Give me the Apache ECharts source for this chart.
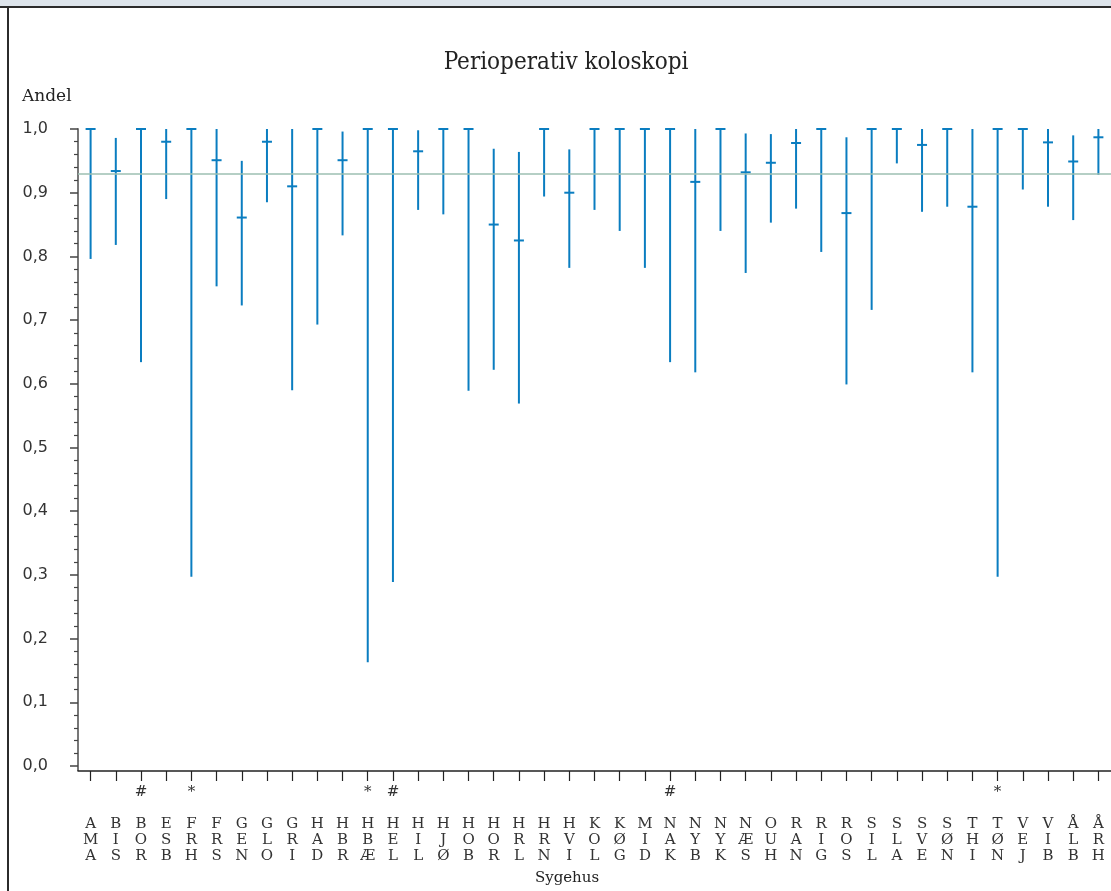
<!DOCTYPE html>
<html>
<head>
<meta charset="utf-8">
<script src="https://cdn.jsdelivr.net/npm/echarts@6/dist/echarts.min.js"></script>
<style>
html,body{margin:0;padding:0;background:#fff;}
#frame{position:absolute;left:0;top:0;width:1111px;height:891px;overflow:hidden;}
#band{position:absolute;left:0;top:0;width:1111px;height:6px;background:#dde4eb;border-bottom:2px solid #2b2b2b;}
#lb{position:absolute;left:7px;top:6px;width:2px;height:885px;background:#2b2b2b;}
#chart{position:absolute;left:0;top:0;width:1111px;height:891px;}
</style>
</head>
<body>
<div id="frame">
<div id="chart"></div>
<div id="band"></div>
<div id="lb"></div>
</div>
<script>
// ---- data ----
const categories = ['AMA','BIS','BOR','ESB','FRH','FRS','GEN','GLO','GRI','HAD','HBR','HBÆ','HEL','HIL','HJØ','HOB','HOR','HRL','HRN','HVI','KOL','KØG','MID','NAK','NYB','NYK','NÆS','OUH','RAN','RIG','ROS','SIL','SLA','SVE','SØN','THI','TØN','VEJ','VIB','ÅLB','ÅRH'];
const marks = ['','','#','','*','','','','','','','*','#','','','','','','','','','','','#','','','','','','','','','','','','','*','','','',''];
const estimate = [1.0,0.934,1.0,0.980,1.0,0.951,0.861,0.980,0.910,1.0,0.951,1.0,1.0,0.965,1.0,1.0,0.850,0.825,1.0,0.900,1.0,1.0,1.0,1.0,0.917,1.0,0.932,0.947,0.978,1.0,0.868,1.0,1.0,0.975,1.0,0.878,1.0,1.0,0.979,0.949,0.987];
const lower = [0.796,0.818,0.634,0.890,0.297,0.753,0.723,0.885,0.590,0.693,0.833,0.163,0.289,0.873,0.866,0.589,0.622,0.569,0.894,0.782,0.873,0.840,0.782,0.634,0.618,0.840,0.774,0.853,0.875,0.807,0.599,0.716,0.946,0.870,0.878,0.618,0.297,0.905,0.878,0.857,0.928];
const upper = [1.0,0.986,1.0,1.0,1.0,1.0,0.950,1.0,1.0,1.0,0.996,1.0,1.0,0.998,1.0,1.0,0.969,0.964,1.0,0.968,1.0,1.0,1.0,1.0,1.0,1.0,0.993,0.992,1.0,1.0,0.987,1.0,1.0,1.0,1.0,1.0,1.0,1.0,1.0,0.990,1.0];
const reference = 0.93;
const yTicks = [0,0.1,0.2,0.3,0.4,0.5,0.6,0.7,0.8,0.9,1.0];

const chart = echarts.init(document.getElementById('chart'), null, {renderer:'canvas'});
const serif = '"DejaVu Serif", serif';
const blue = '#0a7dc0';

const data = categories.map((c,i)=>[i, estimate[i], lower[i], upper[i]]);

chart.setOption({
  animation:false,
  backgroundColor:'#fff',
  grid:{left:78, right:-4, top:129, bottom:125, containLabel:false},
  graphic:[
    {type:'text', x:22, y:88, style:{text:'Andel', fontSize:17, fontFamily:serif, fill:'#222'}},
    {type:'text', x:566, y:51, style:{text:'Perioperativ koloskopi', fontSize:24, fontFamily:'"DejaVu Serif Condensed", "DejaVu Serif", serif', fill:'#222', align:'center'}},
    {type:'text', x:567, y:871, style:{text:'Sygehus', fontSize:15, fontFamily:serif, fill:'#222', align:'center'}}
  ],
  xAxis:{
    type:'category', data:categories, boundaryGap:true, offset:5,
    axisLine:{onZero:false, lineStyle:{color:'#222', width:1.5}},
    axisTick:{show:true, alignWithLabel:true, interval:0, length:10, lineStyle:{color:'#222', width:1.2}},
    axisLabel:{
      interval:0, margin:13, color:'#333', fontFamily:serif, fontSize:15, lineHeight:16,
      formatter:(v,i)=> (marks[i] || ' ') + '\n \n' + v.split('').join('\n')
    },
    splitLine:{show:false}
  },
  yAxis:{
    type:'value', min:0, max:1, interval:0.1,
    axisLine:{show:true, lineStyle:{color:'#777', width:2}},
    axisTick:{show:true, length:8, lineStyle:{color:'#444', width:1.5}},
    minorTick:{show:true, splitNumber:5, length:4, lineStyle:{color:'#444', width:1.2}},
    axisLabel:{margin:30, color:'#333', fontFamily:'"DejaVu Sans", sans-serif', fontSize:16,
      formatter:(v)=> yTicks.indexOf(Math.round(v*10)/10) >= 0 ? v.toFixed(1).replace('.',',') : ''},
    splitLine:{show:false}
  },
  series:[{
    type:'custom',
    data:data,
    encode:{x:0, y:[1,2,3]},
    clip:false,
    renderItem:(params, api)=>{
      const i = api.value(0);
      const p = api.coord([i, api.value(1)]);
      const lo = api.coord([i, api.value(2)]);
      const hi = api.coord([i, api.value(3)]);
      return {type:'group', children:[
        {type:'line', shape:{x1:hi[0], y1:hi[1], x2:lo[0], y2:lo[1]}, style:{stroke:blue, lineWidth:2}},
        {type:'line', shape:{x1:p[0]-5, y1:p[1], x2:p[0]+5, y2:p[1]}, style:{stroke:blue, lineWidth:2}}
      ]};
    },
    markLine:{
      silent:true, symbol:'none', label:{show:false},
      lineStyle:{color:'#9dbfb2', width:1.5, type:'solid'},
      data:[{yAxis:reference}]
    },
    z:3
  }]
});
// small vertical extension of the y-axis line down to the offset x-axis
const origin = chart.convertToPixel({xAxisIndex:0, yAxisIndex:0}, [0, 0]);
chart.setOption({graphic:[{}, {}, {}, {type:'line', shape:{x1:78, y1:origin[1], x2:78, y2:origin[1]+5}, style:{stroke:'#777', lineWidth:2}}]});
</script>
</body>
</html>
